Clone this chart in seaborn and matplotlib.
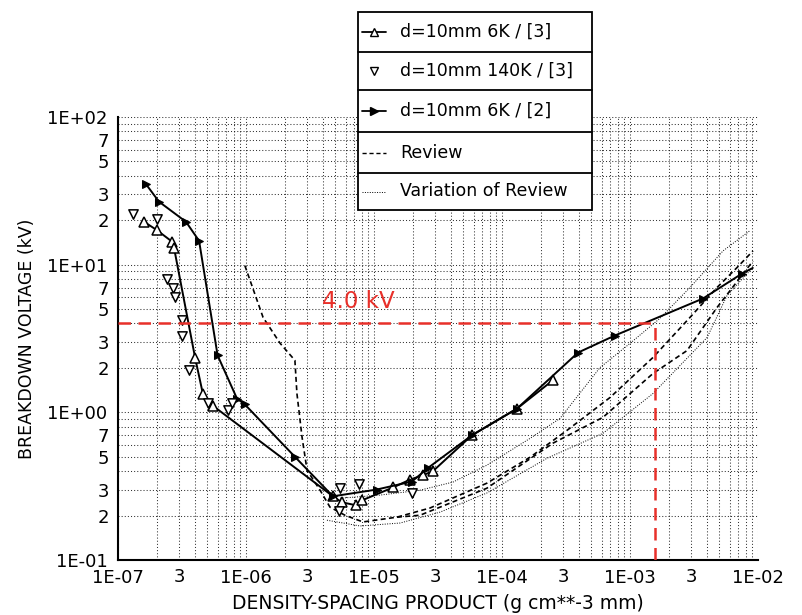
import numpy as np
import matplotlib
matplotlib.use("Agg")
import matplotlib.pyplot as plt
import seaborn as sns
from matplotlib.ticker import LogLocator, FuncFormatter
from matplotlib.lines import Line2D
from matplotlib.patches import Rectangle

# ---------------- data ----------------
# d=10mm 6K / [3]  (open up-triangles, solid line)
s1_x = [1.6e-7, 2.0e-7, 2.65e-7, 2.74e-7, 4.0e-7, 4.6e-7, 5.5e-7, 4.78e-6, 5.6e-6, 7.2e-6,
        8.1e-6, 1.41e-5, 1.91e-5, 2.41e-5, 2.89e-5, 5.83e-5, 1.31e-4, 2.5e-4]
s1_y = [19.5, 17.2, 14.3, 13.0, 2.35, 1.34, 1.11, 0.27, 0.246, 0.235,
        0.254, 0.31, 0.35, 0.375, 0.40, 0.70, 1.06, 1.65]

# d=10mm 140K / [3]  (open down-triangles, no line)
s2_x = [1.31e-7, 2.0e-7, 2.41e-7, 2.69e-7, 2.79e-7, 3.16e-7, 3.16e-7, 3.59e-7, 5.05e-7,
        7.2e-7, 7.8e-7, 5.4e-6, 7.6e-6, 5.3e-6, 1.98e-5]
s2_y = [22.1, 20.5, 8.0, 6.9, 6.0, 4.25, 3.3, 1.95, 1.15,
        1.03, 1.15, 0.306, 0.326, 0.214, 0.284]

# d=10mm 6K / [2]  (filled arrow markers, solid line)
s3_x = [1.65e-7, 2.09e-7, 3.4e-7, 4.3e-7, 6.0e-7, 8.5e-7, 9.8e-7, 2.41e-6, 4.78e-6, 1.05e-5,
        1.98e-5, 2.64e-5, 5.83e-5, 1.31e-4, 3.93e-4, 7.6e-4, 3.72e-3, 7.5e-3, 9.1e-3]
s3_y = [35.2, 26.7, 19.5, 14.5, 2.43, 1.24, 1.13, 0.50, 0.27, 0.30,
        0.34, 0.42, 0.70, 1.06, 2.54, 3.31, 5.9, 8.7, 9.5]

# Review (dashed)
rev_a_x = [9.8e-7, 1.36e-6, 1.85e-6, 2.41e-6, 2.5e-6, 2.74e-6, 3.0e-6, 3.79e-6, 4.53e-6, 5.93e-6,
           8.2e-6, 1.51e-5, 2.74e-5, 7.6e-5, 1.66e-4, 3.22e-4, 6.98e-4, 1.51e-3, 2.94e-3,
           4.78e-3, 6.85e-3, 9.14e-3]
rev_a_y = [9.85, 4.39, 2.93, 2.25, 1.34, 0.68, 0.405, 0.297, 0.228, 0.201,
           0.181, 0.195, 0.225, 0.331, 0.497, 0.755, 1.26, 2.35, 4.39,
           7.0, 9.55, 12.4]
rev_b_x = [1.51e-5, 2.29e-5, 7.6e-5, 2.5e-4, 6.15e-4, 1.51e-3, 2.79e-3, 4.78e-3, 9.14e-3]
rev_b_y = [0.195, 0.201, 0.306, 0.618, 0.925, 1.83, 2.62, 5.12, 10.6]

# Variation of Review (thin dotted)
var_u_x = [5.43e-6, 1.11e-5, 2.29e-5, 4.14e-5, 7.6e-5, 1.66e-4, 2.84e-4, 5.83e-4, 1.0e-3,
           1.71e-3, 2.94e-3, 5.33e-3, 8.66e-3]
var_u_y = [0.262, 0.275, 0.297, 0.337, 0.438, 0.667, 0.91, 2.01, 2.93,
           4.32, 7.0, 12.4, 17.0]
var_l_x = [4.29e-6, 7.78e-6, 1.6e-5, 3.28e-5, 7.6e-5, 2.25e-4, 6.15e-4, 1.51e-3, 4.0e-3,
           5.73e-3, 9.14e-3]
var_l_y = [0.186, 0.170, 0.178, 0.211, 0.284, 0.489, 0.721, 1.34, 3.21,
           6.18, 9.6]

ref_voltage = 4.0
ref_product = 1.57e-3

legend_labels = ["d=10mm 6K / [3]", "d=10mm 140K / [3]", "d=10mm 6K / [2]",
                 "Review", "Variation of Review"]

# ---------------- figure ----------------
sns.set_style("white")
plt.rcParams['font.family'] = ['DejaVu Sans']
plt.rcParams['text.color'] = 'black'
plt.rcParams['axes.labelcolor'] = 'black'

W, H = 802, 615
fig = plt.figure(figsize=(W / 100, H / 100), dpi=100)
L, R, T, B = 118, 758, 117, 560
ax = fig.add_axes([L / W, 1 - B / H, (R - L) / W, (B - T) / H])
ax.set_xscale('log')
ax.set_yscale('log')
ax.set_xlim(1e-7, 1e-2)
ax.set_ylim(0.1, 100)

dash_style = (0, (3, 2))
dot_style = (0, (1, 1.5))

sns.lineplot(x=var_u_x, y=var_u_y, ax=ax, color='black', lw=0.7, linestyle=dot_style,
             sort=False, estimator=None)
sns.lineplot(x=var_l_x, y=var_l_y, ax=ax, color='black', lw=0.7, linestyle=dot_style,
             sort=False, estimator=None)
sns.lineplot(x=rev_a_x, y=rev_a_y, ax=ax, color='black', lw=1.2, linestyle=dash_style,
             sort=False, estimator=None)
sns.lineplot(x=rev_b_x, y=rev_b_y, ax=ax, color='black', lw=1.2, linestyle=dash_style,
             sort=False, estimator=None)

sns.lineplot(x=s1_x, y=s1_y, ax=ax, color='black', lw=1.4, marker='^', markersize=7,
             markerfacecolor='white', markeredgecolor='black', markeredgewidth=1.1,
             sort=False, estimator=None)
sns.lineplot(x=s3_x, y=s3_y, ax=ax, color='black', lw=1.4, marker='>', markersize=6,
             markerfacecolor='black', markeredgecolor='black',
             markevery=list(range(len(s3_x) - 1)), sort=False, estimator=None)
sns.scatterplot(x=s2_x, y=s2_y, ax=ax, marker='v', s=45, facecolor='white',
                edgecolor='black', linewidth=1.1, zorder=5)

# red reference lines
red = '#e8302a'
ax.plot([1e-7, ref_product], [ref_voltage, ref_voltage], color=red, lw=1.8,
        linestyle=(0, (5, 3)), zorder=6)
ax.plot([ref_product, ref_product], [0.1, ref_voltage], color=red, lw=1.8,
        linestyle=(0, (5, 3)), zorder=6)
fig.text(322 / W, 1 - 302 / H, f"{ref_voltage:.1f} kV", color=red, fontsize=16.5,
         ha='left', va='center')

# grid & spines
ax.grid(True, which='both', color='black', linestyle=(0, (1, 2)), linewidth=0.75, alpha=0.8)
for s in ['top', 'right']:
    ax.spines[s].set_visible(False)
for s in ['left', 'bottom']:
    ax.spines[s].set_linewidth(1.5)
    ax.spines[s].set_color('black')

ax.xaxis.set_major_locator(LogLocator(base=10, numticks=20))
ax.xaxis.set_minor_locator(LogLocator(base=10, subs=np.arange(2, 10), numticks=50))
ax.yaxis.set_major_locator(LogLocator(base=10, numticks=20))
ax.yaxis.set_minor_locator(LogLocator(base=10, subs=np.arange(2, 10), numticks=50))


def major_fmt(v, pos):
    e = int(round(np.log10(v)))
    return f"1E{e:+03d}"


def mant(v):
    return int(round(v / 10 ** np.floor(np.log10(v) + 1e-9)))


ax.xaxis.set_major_formatter(FuncFormatter(major_fmt))
ax.yaxis.set_major_formatter(FuncFormatter(major_fmt))
ax.xaxis.set_minor_formatter(FuncFormatter(lambda v, p: "3" if mant(v) == 3 else ""))
ax.yaxis.set_minor_formatter(FuncFormatter(lambda v, p: str(mant(v)) if mant(v) in (2, 3, 5, 7) else ""))

ax.tick_params(axis='both', which='major', direction='inout', length=9, width=1.2,
               labelsize=13, colors='black')
ax.tick_params(axis='both', which='minor', direction='inout', length=7, width=1.0,
               labelsize=13, colors='black')
ax.tick_params(axis='x', which='both', pad=2)
ax.tick_params(axis='y', which='both', pad=3)

ax.set_xlabel("DENSITY-SPACING PRODUCT (g cm**-3 mm)", fontsize=13.5, labelpad=5,
              color='black')
ax.set_ylabel("BREAKDOWN VOLTAGE (kV)", fontsize=12.5, labelpad=8, color='black')

# ---------------- legend (boxed rows) ----------------
lx0, lx1, ly0, ly1 = 358, 592, 12, 210
seps = [52, 90, 132, 173]
fig.add_artist(Rectangle((lx0 / W, 1 - ly1 / H), (lx1 - lx0) / W, (ly1 - ly0) / H,
                         transform=fig.transFigure, facecolor='white', edgecolor='black',
                         lw=1.3, zorder=10))
for sy in seps:
    fig.add_artist(Line2D([lx0 / W, lx1 / W], [1 - sy / H, 1 - sy / H],
                          transform=fig.transFigure, color='black', lw=1.3, zorder=11))
rows = [ly0] + seps + [ly1]
centers = [(rows[i] + rows[i + 1]) / 2 for i in range(5)]
hx0, hx1 = 362, 386
handle_specs = [
    dict(ls='-', lw=1.3, marker='^', ms=6, mfc='white', mec='black'),
    dict(ls='none', marker='v', ms=6, mfc='white', mec='black'),
    dict(ls='-', lw=1.3, marker='>', ms=6, mfc='black', mec='black'),
    dict(ls=dash_style, lw=1.0),
    dict(ls=dot_style, lw=0.7),
]
for c, lab, spec in zip(centers, legend_labels, handle_specs):
    yy = 1 - c / H
    ln = Line2D([hx0 / W, hx1 / W], [yy, yy], transform=fig.transFigure, color='black',
                zorder=12, **spec)
    if spec.get('marker'):
        ln.set_data([hx0 / W, (hx0 + hx1) / 2 / W, hx1 / W], [yy, yy, yy])
        ln.set_markevery([1])
    fig.add_artist(ln)
    fig.text(400 / W, yy, lab, fontsize=12.5, ha='left', va='center', zorder=12,
             color='black')

fig.savefig("out.png", dpi=100)
